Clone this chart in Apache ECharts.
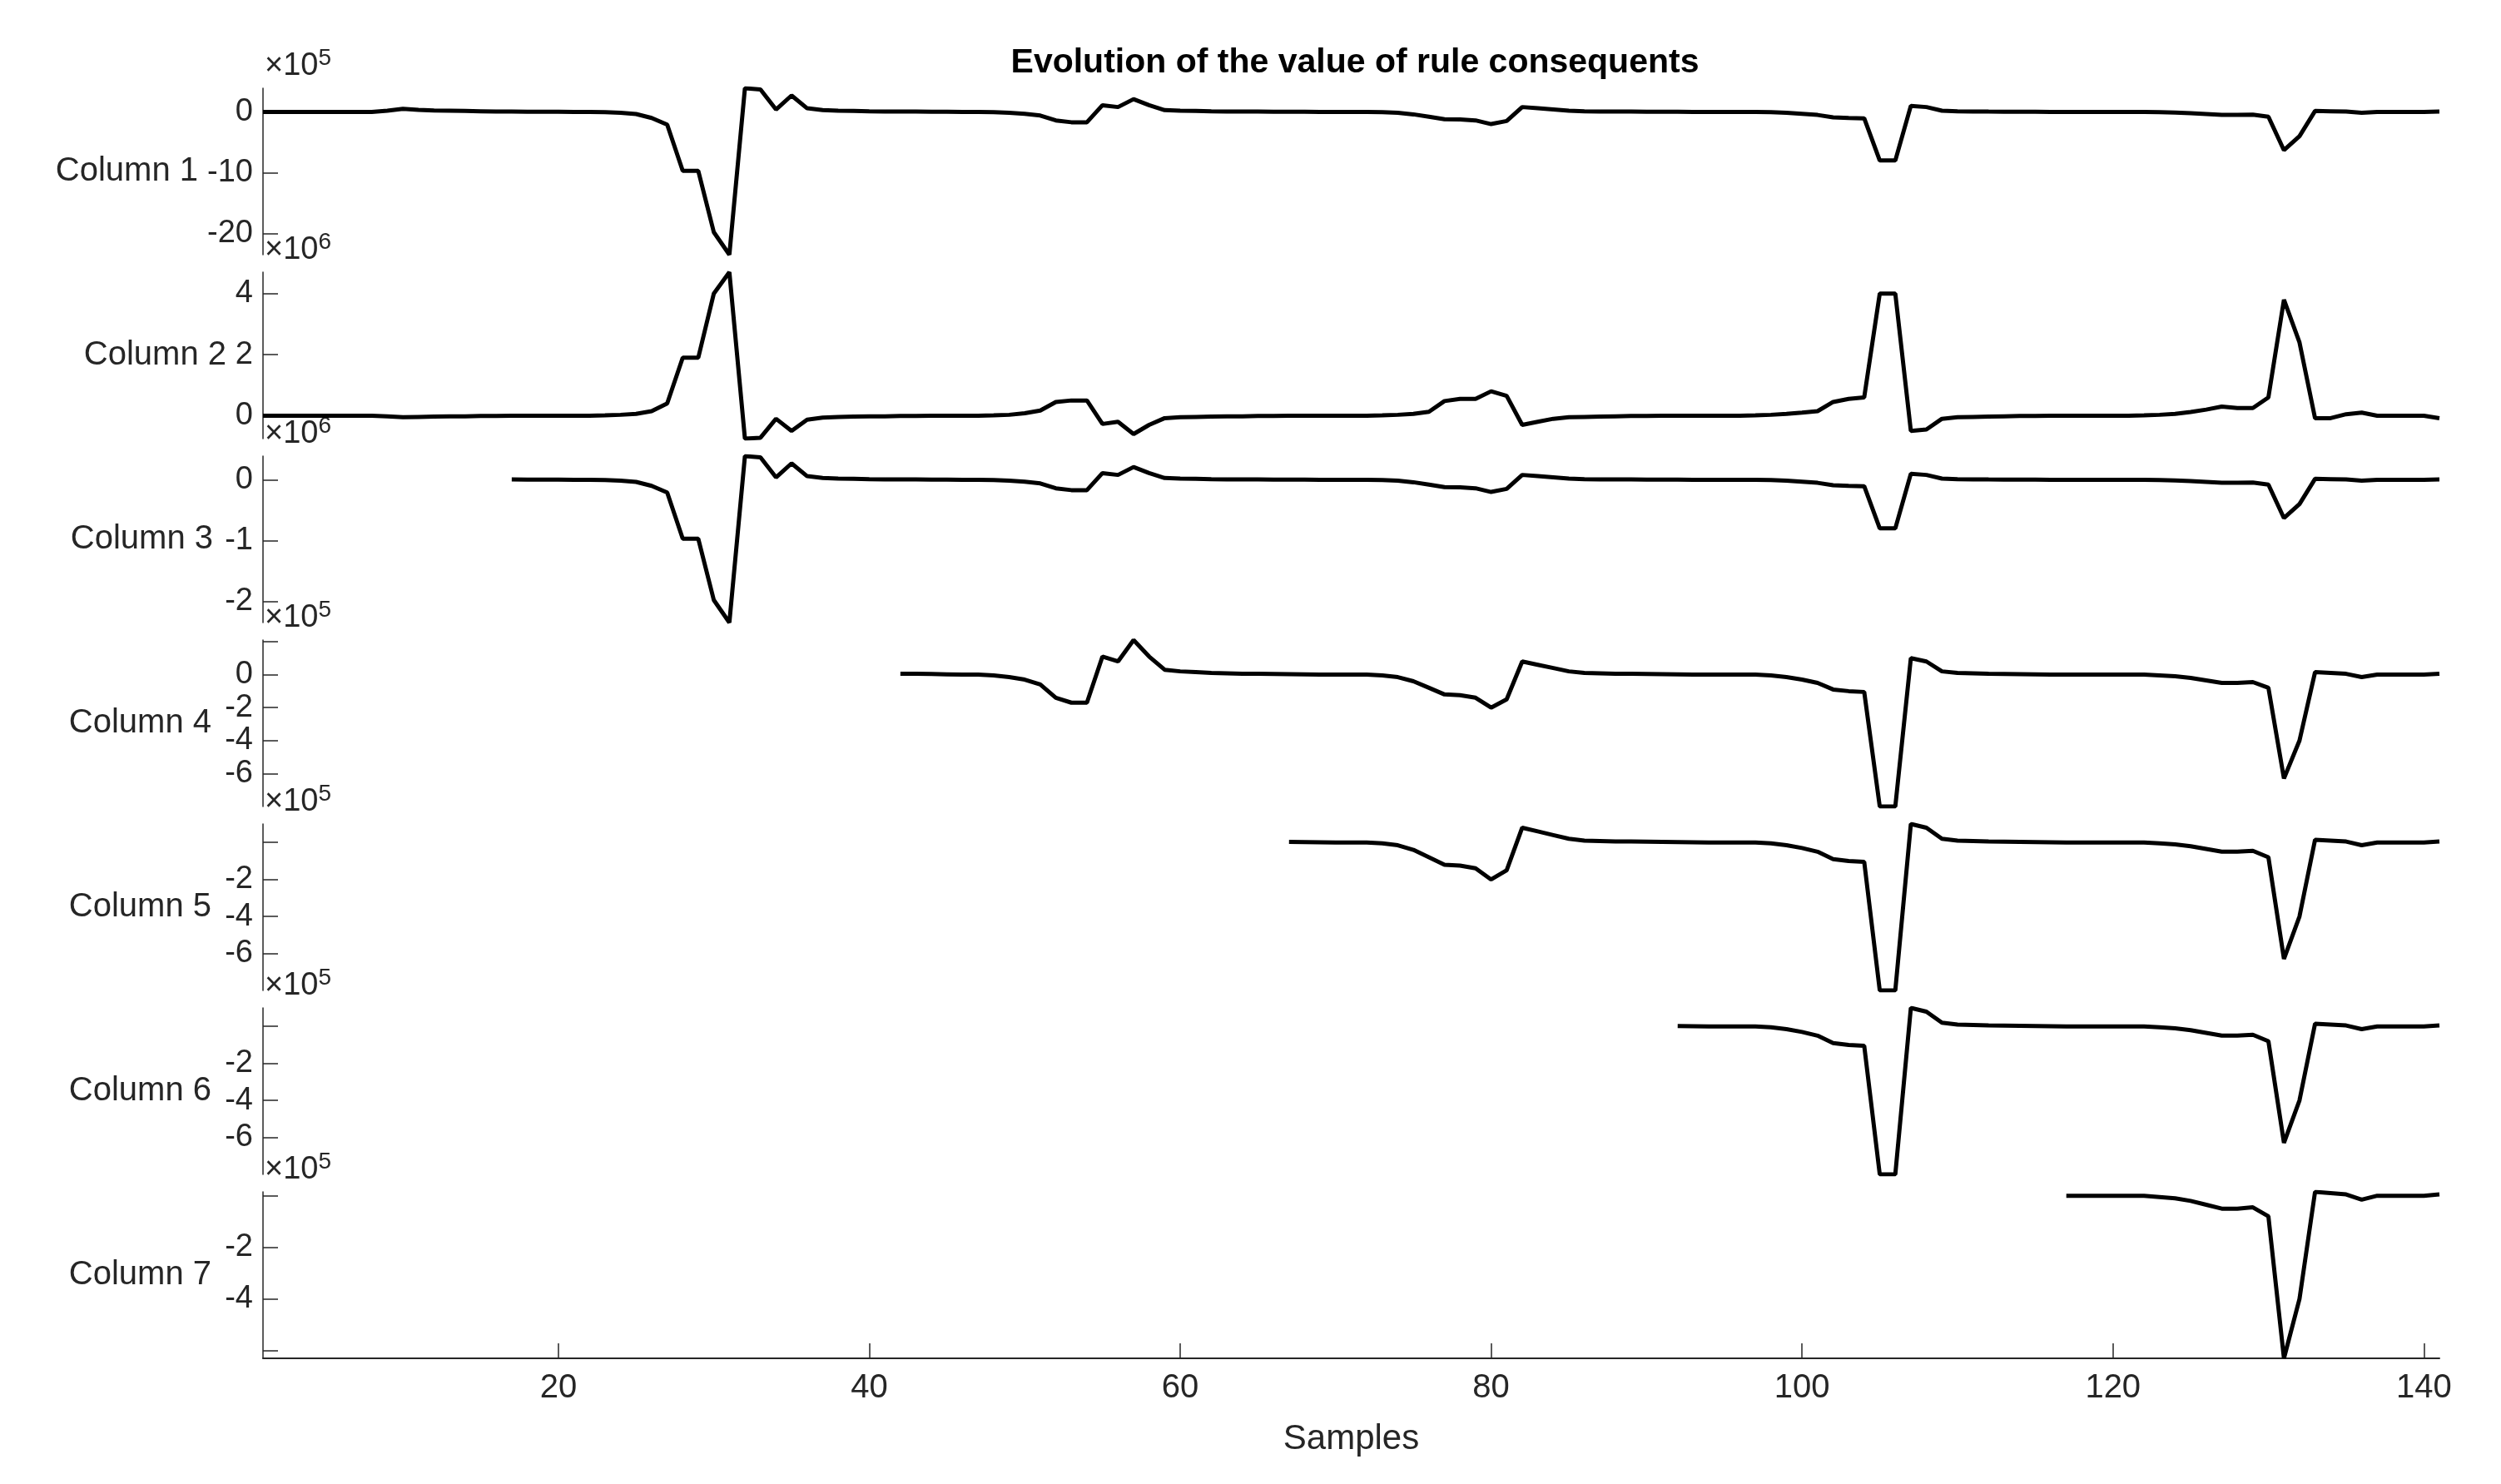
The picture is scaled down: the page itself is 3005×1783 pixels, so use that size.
<!DOCTYPE html>
<html>
<head>
<meta charset="utf-8">
<script src="https://cdn.jsdelivr.net/npm/echarts@6/dist/echarts.min.js"></script>
<style>
  html,body{margin:0;padding:0;background:#fff;}
  #chart{width:3005px;height:1783px;}
</style>
</head>
<body>
<div id="chart"></div>
<script>
window.onload = function(){

	/* data (one value per sample) */
	const columnNames = ['Column 1','Column 2','Column 3','Column 4','Column 5','Column 6','Column 7'];
	const exponents = [5,6,6,5,5,5,5];
	const startSample = [1,1,17,42,67,92,117];

	const col1 = [
		0,0,0,0,0,0,0,0,0.2,0.5,
		0.35,0.25,0.2,0.15,0.1,0.05,0.05,0.03,0.02,0.02,
		0.01,0,-0.05,-0.15,-0.35,-1.0,-2.1,-9.7,-9.7,-19.8,
		-23.5,3.9,3.7,0.4,2.7,0.6,0.3,0.2,0.15,0.1,
		0.08,0.06,0.05,0.04,0.02,0,0,-0.05,-0.15,-0.3,
		-0.6,-1.4,-1.7,-1.7,1.1,0.8,2.1,1.1,0.3,0.2,
		0.15,0.1,0.08,0.06,0.05,0.04,0.03,0.02,0.01,0,
		0,0,-0.05,-0.15,-0.4,-0.8,-1.2,-1.25,-1.4,-2.0,
		-1.5,0.8,0.6,0.4,0.2,0.1,0.08,0.06,0.05,0.04,
		0.03,0.02,0.01,0,0,0,0,-0.05,-0.15,-0.3,
		-0.5,-0.9,-1.0,-1.05,-8.0,-8.0,1.0,0.8,0.2,0.1,
		0.08,0.05,0.04,0.03,0.02,0.01,0,0,0,0,
		0,0,-0.05,-0.1,-0.2,-0.35,-0.5,-0.5,-0.45,-0.8,
		-6.3,-4.0,0.15,0.1,0.05,-0.15,0,0,0,0,0.05
	];
	const col2 = [
		0,0,0,0,0,0,0,0,-0.02,-0.05,
		-0.04,-0.03,-0.02,-0.02,-0.01,-0.01,0,0,0,0,
		0,0,0.01,0.03,0.06,0.15,0.4,1.9,1.9,4.0,
		4.7,-0.75,-0.72,-0.1,-0.5,-0.13,-0.06,-0.04,-0.03,-0.02,
		-0.02,-0.01,-0.01,0,0,0,0,0.01,0.03,0.08,
		0.17,0.45,0.5,0.5,-0.27,-0.2,-0.6,-0.3,-0.08,-0.05,
		-0.04,-0.03,-0.02,-0.02,-0.01,-0.01,0,0,0,0,
		0,0,0.01,0.03,0.06,0.13,0.48,0.55,0.55,0.8,
		0.65,-0.3,-0.2,-0.1,-0.05,-0.04,-0.03,-0.02,-0.01,-0.01,
		0,0,0,0,0,0,0.01,0.03,0.06,0.1,
		0.15,0.45,0.55,0.6,4.0,4.0,-0.5,-0.45,-0.1,-0.05,
		-0.04,-0.03,-0.02,-0.01,-0.01,0,0,0,0,0,
		0,0.01,0.03,0.06,0.12,0.2,0.3,0.25,0.25,0.6,
		3.8,2.4,-0.08,-0.08,0.05,0.1,0,0,0,0,-0.08
	];
	// from sample 17
	const col3 = [
		0.005,0.003,0.002,0.002,
		0.001,0,-0.005,-0.015,-0.035,-0.1,-0.21,-0.97,-0.97,-1.98,
		-2.35,0.39,0.37,0.04,0.27,0.06,0.03,0.02,0.015,0.01,
		0.008,0.006,0.005,0.004,0.002,0,0,-0.005,-0.015,-0.03,
		-0.06,-0.14,-0.17,-0.17,0.11,0.08,0.21,0.11,0.03,0.02,
		0.015,0.01,0.008,0.006,0.005,0.004,0.003,0.002,0.001,0,
		0,0,-0.005,-0.015,-0.04,-0.08,-0.12,-0.125,-0.14,-0.2,
		-0.15,0.08,0.06,0.04,0.02,0.01,0.008,0.006,0.005,0.004,
		0.003,0.002,0.001,0,0,0,0,-0.005,-0.015,-0.03,
		-0.05,-0.09,-0.1,-0.105,-0.8,-0.8,0.1,0.08,0.02,0.01,
		0.008,0.005,0.004,0.003,0.002,0.001,0,0,0,0,
		0,0,-0.005,-0.01,-0.02,-0.035,-0.05,-0.05,-0.045,-0.08,
		-0.63,-0.4,0.015,0.01,0.005,-0.015,0,0,0,0,0.005
	];
	// from sample 42
	const col4 = [
		0.06,0.05,0.04,0.02,0,0,-0.05,-0.15,-0.3,
		-0.6,-1.4,-1.7,-1.7,1.1,0.8,2.1,1.1,0.3,0.2,
		0.15,0.1,0.08,0.06,0.05,0.04,0.03,0.02,0.01,0,
		0,0,-0.05,-0.15,-0.4,-0.8,-1.2,-1.25,-1.4,-2.0,
		-1.5,0.8,0.6,0.4,0.2,0.1,0.08,0.06,0.05,0.04,
		0.03,0.02,0.01,0,0,0,0,-0.05,-0.15,-0.3,
		-0.5,-0.9,-1.0,-1.05,-8.0,-8.0,1.0,0.8,0.2,0.1,
		0.08,0.05,0.04,0.03,0.02,0.01,0,0,0,0,
		0,0,-0.05,-0.1,-0.2,-0.35,-0.5,-0.5,-0.45,-0.8,
		-6.3,-4.0,0.15,0.1,0.05,-0.15,0,0,0,0,0.05
	];
	// from sample 67
	const col5 = [
		0.03,0.02,0.01,0,
		0,0,-0.05,-0.15,-0.4,-0.8,-1.2,-1.25,-1.4,-2.0,
		-1.5,0.8,0.6,0.4,0.2,0.1,0.08,0.06,0.05,0.04,
		0.03,0.02,0.01,0,0,0,0,-0.05,-0.15,-0.3,
		-0.5,-0.9,-1.0,-1.05,-8.0,-8.0,1.0,0.8,0.2,0.1,
		0.08,0.05,0.04,0.03,0.02,0.01,0,0,0,0,
		0,0,-0.05,-0.1,-0.2,-0.35,-0.5,-0.5,-0.45,-0.8,
		-6.3,-4.0,0.15,0.1,0.05,-0.15,0,0,0,0,0.05
	];
	// from sample 92
	const col6 = [
		0.02,0.01,0,0,0,0,-0.05,-0.15,-0.3,
		-0.5,-0.9,-1.0,-1.05,-8.0,-8.0,1.0,0.8,0.2,0.1,
		0.08,0.05,0.04,0.03,0.02,0.01,0,0,0,0,
		0,0,-0.05,-0.1,-0.2,-0.35,-0.5,-0.5,-0.45,-0.8,
		-6.3,-4.0,0.15,0.1,0.05,-0.15,0,0,0,0,0.05
	];
	// from sample 117
	const col7 = [
		0,0,0,0,
		0,0,-0.05,-0.1,-0.2,-0.35,-0.5,-0.5,-0.45,-0.8,
		-6.3,-4.0,0.15,0.1,0.05,-0.15,0,0,0,0,0.05
	];
	const columns = [col1,col2,col3,col4,col5,col6,col7];

	/* tick values per panel, and which of them carry a label */
	const yTicks = [[0,-10,-20],[0,2,4],[0,-1,-2],[2,0,-2,-4,-6],[0,-2,-4,-6],[0,-2,-4,-6],[0,-2,-4,-6]];
	const yLabels = [[0,-10,-20],[0,2,4],[0,-1,-2],[0,-2,-4,-6],[-2,-4,-6],[-2,-4,-6],[-2,-4]];
	const yMin = [-23.5,-0.75,-2.35,-8.0,-8.0,-8.0,-6.3];
	const xTicks = [20,40,60,80,100,120,140];
	const nameGaps = [78,44,60,62,62,62,62];

	/* layout */
	const left = 316, right = 74, top0 = 106, panelH = 200, step = 221;
	const textColor = '#262626';
	const font = 'Liberation Sans';

	var chart = echarts.init(document.getElementById('chart'));
	var grids=[], xAxes=[], yAxes=[], series=[], graphics=[];

	columns.forEach(function(col,i){
		var t = top0 + i*step;
		grids.push({left:left, right:right, top:t, height:panelH});
		var last = i == columns.length-1;
		xAxes.push({
			type:'value', gridIndex:i, min:1, max:141,
			axisLine:{show:last, onZero:false, lineStyle:{color:textColor,width:2}},
			axisTick:{show:last, inside:true, length:18, customValues:xTicks, lineStyle:{color:textColor,width:1.5}},
			axisLabel:{show:last, customValues:xTicks, color:textColor, fontSize:40, fontFamily:font, margin:16, hideOverlap:false},
			splitLine:{show:false},
			name: last ? 'Samples' : '',
			nameLocation:'middle', nameGap:76,
			nameTextStyle:{color:textColor, fontSize:42, fontFamily:font}
		});
		var mx = Math.max.apply(null,col);
		yAxes.push({
			type:'value', gridIndex:i, min:yMin[i], max:mx,
			axisLine:{show:true, lineStyle:{color:textColor,width:1.5}},
			axisTick:{show:true, inside:true, length:18, customValues:yTicks[i], lineStyle:{color:textColor,width:1.5}},
			axisLabel:{
				customValues:yTicks[i], color:textColor, fontSize:38, fontFamily:font, margin:12,
				hideOverlap:false, showMinLabel:true, showMaxLabel:true,
				formatter:(function(lbls){ return function(v){ return lbls.indexOf(v)>=0 ? String(v) : ''; }; })(yLabels[i])
			},
			splitLine:{show:false}
		});
		series.push({
			type:'line', xAxisIndex:i, yAxisIndex:i, showSymbol:false, symbol:'none',
			lineStyle:{color:'#000', width:5}, animation:false,
			data: col.map(function(v,k){ return [startSample[i]+k, v]; })
		});
		/* column name, drawn apart from the axis so no tick label gets hidden */
		graphics.push({
			type:'text', x:left-nameGaps[i], y:t+panelH/2,
			style:{text:columnNames[i], align:'right', verticalAlign:'middle', fontSize:40, fill:textColor, fontFamily:font}
		});
		graphics.push({
			type:'text', left:left+2, top:t-50,
			style:{
				text:'×10{sup|'+exponents[i]+'}',
				rich:{sup:{fontSize:28, verticalAlign:'top', padding:[0,0,20,0], fill:textColor, fontFamily:font}},
				fontSize:38, fill:textColor, fontFamily:font
			}
		});
	});

	chart.setOption({
		backgroundColor:'#fff',
		animation:false,
		title:{
			text:'Evolution of the value of rule consequents',
			left:1623, textAlign:'center', top:50,
			textStyle:{fontSize:41, fontWeight:'bold', color:'#000', fontFamily:font}
		},
		grid:grids, xAxis:xAxes, yAxis:yAxes, series:series, graphic:graphics
	});
}
</script>
</body>
</html>
